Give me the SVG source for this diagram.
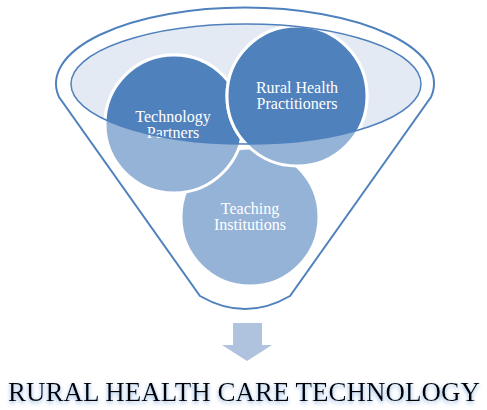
<svg xmlns="http://www.w3.org/2000/svg" width="487" height="410" viewBox="0 0 487 410">
<style>
.light{fill:#95B3D7;stroke:#FFFFFF;stroke-width:3}
.dark{fill:#4F81BD;stroke:#FFFFFF;stroke-width:3}
.lbl{font-family:"Liberation Serif","Times New Roman",serif;font-size:16px;fill:#FFFFFF;text-anchor:middle}
.title{font-family:"Liberation Serif","Times New Roman",serif;font-size:27px;fill:#000000;text-anchor:middle}
</style>
<defs>
<clipPath id="mouth"><ellipse cx="246" cy="84" rx="175" ry="60"/></clipPath>
<filter id="glow" x="-10%" y="-50%" width="120%" height="200%">
<feGaussianBlur in="SourceAlpha" stdDeviation="2" result="b"/>
<feOffset in="b" dx="0" dy="2" result="o"/>
<feFlood flood-color="#8DB3E2" result="c"/>
<feComposite in="c" in2="o" operator="in" result="s"/>
<feMerge><feMergeNode in="s"/><feMergeNode in="SourceGraphic"/></feMerge>
</filter>
</defs>
<g id="funnel">
<path d="M 59,97 A 189 76 0 1 1 431,97 L 290,296 Q 245,322 200,296 Z" fill="#FFFFFF" stroke="#4F81BD" stroke-width="2"/>
<ellipse cx="246" cy="84" rx="175" ry="60" fill="#E4EAF4"/>
</g>
<g id="teaching">
<circle class="light" cx="250" cy="217" r="69"/>
<circle class="dark" cx="250" cy="217" r="69" clip-path="url(#mouth)"/>
<text class="lbl" x="250" y="214">Teaching</text>
<text class="lbl" x="250" y="230">Institutions</text>
</g>
<g id="technology">
<circle class="light" cx="174" cy="124" r="69"/>
<circle class="dark" cx="174" cy="124" r="69" clip-path="url(#mouth)"/>
<text class="lbl" x="173" y="122">Technology</text>
<text class="lbl" x="173" y="138">Partners</text>
</g>
<g id="rural">
<circle class="light" cx="297" cy="96" r="70"/>
<circle class="dark" cx="297" cy="96" r="70" clip-path="url(#mouth)"/>
<text class="lbl" x="297" y="93">Rural Health</text>
<text class="lbl" x="297" y="109">Practitioners</text>
</g>
<g id="connectors">
<ellipse cx="246" cy="84" rx="175" ry="60" fill="none" stroke="#4F81BD" stroke-width="1.5"/>
<polygon points="233,323 262,323 262,345 272,345 247,361 222,345 233,345" fill="#AFC2DE"/>
</g>
<g id="result">
<text class="title" x="244" y="401" textLength="472" lengthAdjust="spacingAndGlyphs" filter="url(#glow)">RURAL HEALTH CARE TECHNOLOGY</text>
</g>
</svg>
